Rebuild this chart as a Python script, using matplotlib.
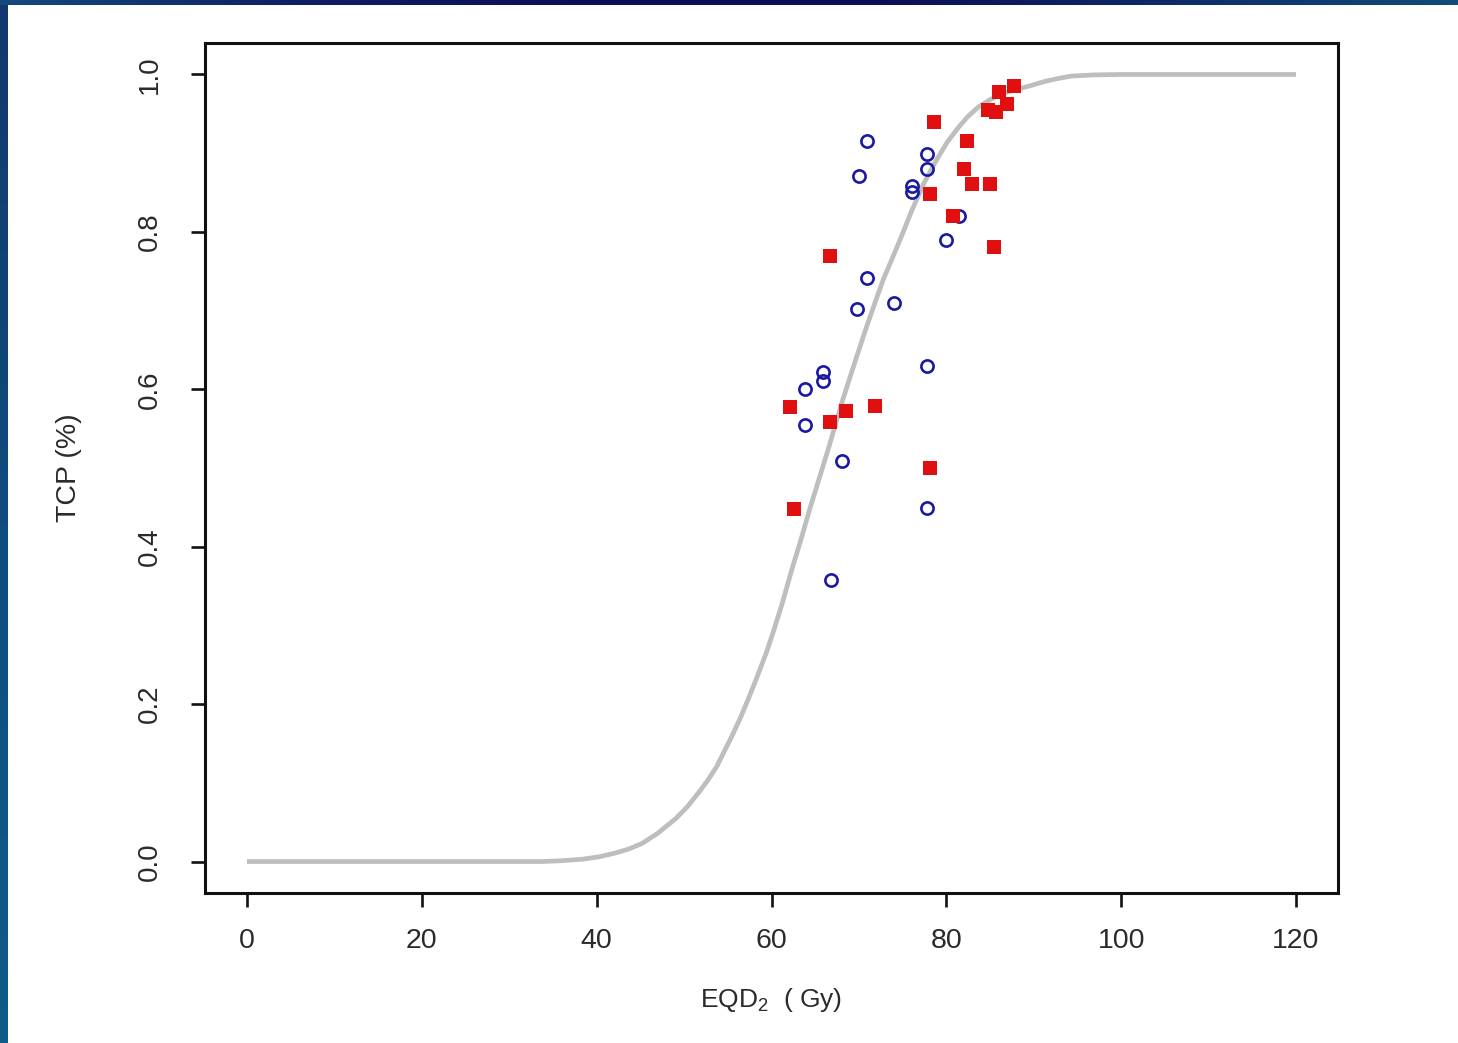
import numpy as np
import matplotlib
matplotlib.use("Agg")
import matplotlib.pyplot as plt
from matplotlib.colors import LinearSegmentedColormap

plt.rcParams['font.family'] = ['Liberation Sans', 'DejaVu Sans']
plt.rcParams['mathtext.fontset'] = 'custom'
plt.rcParams['mathtext.rm'] = 'Liberation Sans'

# Observed tumour control, series 1 (open circles)
circle_dose = [70.9, 70.0, 77.8, 77.8, 76.1, 76.1, 80.0, 70.9, 69.8, 74.0,
               77.8, 65.9, 65.9, 63.8, 63.8, 68.1, 77.8, 66.8, 81.4]
circle_tcp = [0.915, 0.871, 0.899, 0.880, 0.858, 0.851, 0.790, 0.741, 0.702, 0.710,
              0.629, 0.622, 0.610, 0.601, 0.555, 0.509, 0.449, 0.358, 0.820]

# Observed tumour control, series 2 (filled squares)
square_dose = [62.1, 62.6, 66.7, 66.7, 68.5, 71.8, 78.1, 78.1, 78.6, 80.8,
               82.0, 82.4, 82.9, 85.0, 85.4, 84.8, 85.7, 86.0, 86.9, 87.7]
square_tcp = [0.577, 0.448, 0.769, 0.559, 0.573, 0.579, 0.500, 0.848, 0.939, 0.820,
              0.880, 0.916, 0.861, 0.861, 0.781, 0.955, 0.952, 0.978, 0.962, 0.986]

# Fitted dose-response curve
curve_dose = [0, 20, 30, 33.8, 36.0, 38.4, 40.3, 42.2, 43.7, 45.2, 47.0, 49.1,
              50.4, 51.7, 52.7, 53.7, 54.6, 55.5, 56.5, 57.4, 58.4, 59.4, 60.3,
              61.2, 62.3, 63.5, 64.3, 65.1, 66.6, 68.1, 69.7, 70.8, 71.9, 72.8,
              73.8, 75.0, 76.0, 77.4, 78.8, 80.1, 81.4, 82.5, 83.7, 85.0, 86.5,
              88.0, 89.7, 91.2, 92.8, 94.3, 97.0, 100, 120]
curve_tcp = [0.0, 0.0, 0.0, 0.0, 0.001, 0.003, 0.006, 0.011, 0.016, 0.023, 0.036, 0.055,
             0.070, 0.088, 0.103, 0.120, 0.140, 0.160, 0.184, 0.208, 0.236, 0.265, 0.295,
             0.327, 0.370, 0.414, 0.445, 0.474, 0.528, 0.585, 0.640, 0.677, 0.712, 0.740,
             0.766, 0.798, 0.826, 0.861, 0.890, 0.914, 0.933, 0.947, 0.959, 0.968, 0.976,
             0.981, 0.986, 0.991, 0.995, 0.998, 0.9995, 1.0, 1.0]

x_ticks = [0, 20, 40, 60, 80, 100, 120]
y_ticks = [0.0, 0.2, 0.4, 0.6, 0.8, 1.0]
y_tick_labels = ['0.0', '0.2', '0.4', '0.6', '0.8', '1.0']

W, H = 1458, 1043
fig = plt.figure(figsize=(W / 100, H / 100), dpi=100, facecolor='white')

# slide frame: thin gradient strips along the top and left edges
top_cmap = LinearSegmentedColormap.from_list(
    'top', ['#134a7c', '#0f1f66', '#0b0d58', '#0b0d58', '#0d2a66', '#114c7a'])
left_cmap = LinearSegmentedColormap.from_list('left', ['#12386e', '#0f4d7e', '#0e5c88'])
ax_top = fig.add_axes([0, 1 - 5 / H, 1, 5 / H])
ax_top.imshow(np.linspace(0, 1, 256)[None, :], cmap=top_cmap, aspect='auto')
ax_top.set_axis_off()
ax_left = fig.add_axes([0, 0, 7 / W, 1 - 5 / H])
ax_left.imshow(np.linspace(0, 1, 256)[:, None], cmap=left_cmap, aspect='auto')
ax_left.set_axis_off()

ax = fig.add_axes([205 / W, 1 - 893 / H, (1338 - 205) / W, (893 - 43) / H])
ax.set_xlim(-4.8, 124.8)
ax.set_ylim(-0.04, 1.04)

ax.plot(curve_dose, curve_tcp, color='#bebebe', lw=3.4, solid_capstyle='butt',
        solid_joinstyle='round', zorder=2)
ax.plot(circle_dose, circle_tcp, linestyle='none', marker='o', ms=8.8,
        mfc='none', mec='#1a1aa0', mew=1.9, zorder=3)
ax.plot(square_dose, square_tcp, linestyle='none', marker='s', ms=10,
        mfc='#e01010', mec='#e01010', mew=0, zorder=4)

for s in ax.spines.values():
    s.set_linewidth(2.2)
    s.set_color('#111111')

ax.set_xticks(x_ticks)
ax.set_xticklabels([str(t) for t in x_ticks])
ax.set_yticks(y_ticks)
ax.set_yticklabels(y_tick_labels, rotation=90, va='center')
ax.tick_params(axis='both', direction='out', length=10, width=1.9, color='#111111',
               labelcolor='#2a2a2a')
ax.tick_params(axis='x', labelsize=20.5, pad=15.5)
ax.tick_params(axis='y', labelsize=20, pad=20.5)

ax.set_xlabel(r'EQD$_\mathregular{2}$  ( Gy)', fontsize=19, color='#2a2a2a', labelpad=23)
ax.set_ylabel('TCP (%)', fontsize=20.5, color='#2a2a2a', labelpad=39)

fig.savefig('out.png', dpi=100, facecolor='white')
